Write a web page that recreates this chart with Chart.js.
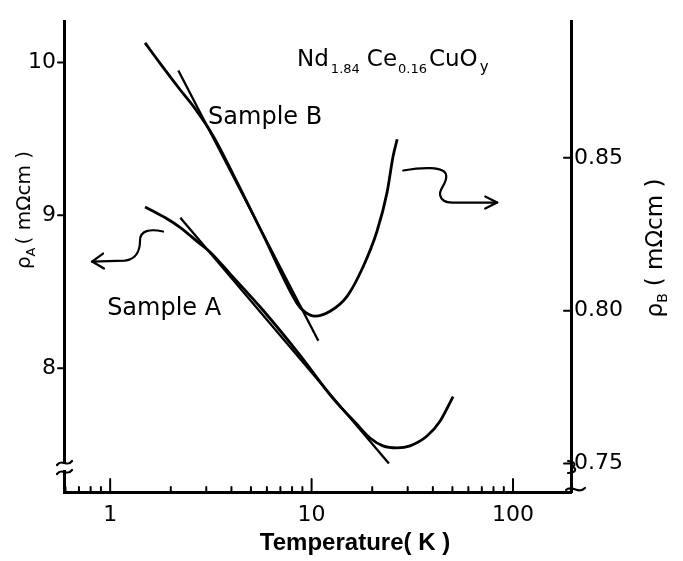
<!DOCTYPE html>
<html><head><meta charset="utf-8">
<script src="https://cdn.jsdelivr.net/npm/chart.js@4"></script>
<style>html,body{margin:0;padding:0;background:#fff;} canvas{display:block;}</style>
</head><body>
<canvas id="c" width="683" height="561"></canvas>
<script>
// ---- data ----
const tempA = [1.49, 1.88, 2.23, 2.70, 3.14, 3.94, 5.74, 8.77, 12.8, 16.8, 19.5, 22.6, 26.6, 30.8, 37.4, 43.4, 50.4];
const rhoA  = [9.055, 8.984, 8.920, 8.830, 8.759, 8.617, 8.379, 8.084, 7.801, 7.633, 7.543, 7.492, 7.479, 7.492, 7.556, 7.653, 7.814];
const tangentTempA = [2.23, 24.2];
const tangentRhoA  = [8.984, 7.376];
const tempB = [1.49, 1.77, 2.23, 2.64, 3.25, 4.27, 5.74, 8.47, 9.28, 10.4, 12.35, 15.0, 18.0, 21.1, 23.7, 25.4, 26.6];
const rhoB  = [0.8876, 0.8809, 0.8722, 0.8661, 0.8571, 0.8420, 0.8249, 0.8024, 0.7995, 0.7982, 0.7998, 0.8047, 0.8143, 0.8259, 0.8387, 0.8506, 0.8561];
const tangentTempB = [2.18, 10.8];
const tangentRhoB  = [0.8786, 0.7902];
const xTickLabels = [1, 10, 100];
const leftTicks = [8, 9, 10];
const rightTicks = [0.75, 0.80, 0.85];
const xRange = [0.59, 194];
const leftRange = [7.19, 10.27];
const rightRange = [0.7407, 0.8947];

const pts = (xs, ys) => xs.map((v, i) => ({x: v, y: ys[i]}));
const minorTicks = [];
for (let e = -1; e <= 2; e++) for (let m = 1; m <= 9; m++) {
  const v = Number((m * Math.pow(10, e)).toPrecision(3));
  if (v >= xRange[0] && v <= xRange[1]) minorTicks.push(v);
}

function drawRich(ctx, parts, cx, cy, rot, align) {
  ctx.save(); ctx.translate(cx, cy); ctx.rotate(rot);
  let total = 0;
  parts.forEach(p => { ctx.font = p.font; p.w = ctx.measureText(p.text).width; total += p.w + (p.gap || 0); });
  let xx = align === 'center' ? -total / 2 : 0;
  ctx.textBaseline = 'alphabetic'; ctx.textAlign = 'left'; ctx.fillStyle = '#000';
  parts.forEach(p => { ctx.font = p.font; ctx.fillText(p.text, xx, p.dy || 0); xx += p.w + (p.gap || 0); });
  ctx.restore();
}

const decor = {
  id: 'decor',
  afterDraw(chart) {
    const ctx = chart.ctx, a = chart.chartArea;
    const {x, y, y1} = chart.scales;
    const line = (x0, y0, x1, y1_) => { ctx.beginPath(); ctx.moveTo(x0, y0); ctx.lineTo(x1, y1_); ctx.stroke(); };
    ctx.save();
    ctx.strokeStyle = '#000'; ctx.fillStyle = '#000'; ctx.lineCap = 'round'; ctx.lineJoin = 'round';
    // tick marks
    ctx.lineWidth = 2;
    x.ticks.forEach(t => {
      const px = x.getPixelForValue(t.value);
      line(px, a.bottom, px, a.bottom - (xTickLabels.includes(t.value) ? 13 : 5));
    });
    y.ticks.forEach(t => { const py = y.getPixelForValue(t.value); line(a.left - 6, py, a.left, py); });
    y1.ticks.forEach(t => { const py = y1.getPixelForValue(t.value); line(a.right - 7, py, a.right, py); });
    // axis breaks
    ctx.fillStyle = '#fff'; ctx.fillRect(a.left - 3, a.bottom - 28, 6, 6); ctx.fillStyle = '#000';
    ctx.lineWidth = 2.2;
    ctx.beginPath(); ctx.moveTo(a.left - 7, a.bottom - 27); ctx.bezierCurveTo(a.left - 2, a.bottom - 34, a.left + 3, a.bottom - 24, a.left + 8, a.bottom - 31); ctx.stroke();
    ctx.beginPath(); ctx.moveTo(a.left - 7, a.bottom - 18); ctx.bezierCurveTo(a.left - 2, a.bottom - 25, a.left + 3, a.bottom - 15, a.left + 8, a.bottom - 22); ctx.stroke();
    ctx.beginPath(); ctx.moveTo(a.right - 3, a.bottom - 31); ctx.bezierCurveTo(a.right + 5, a.bottom - 31, a.right + 5, a.bottom - 25, a.right, a.bottom - 25);
    ctx.bezierCurveTo(a.right + 6, a.bottom - 25, a.right + 6, a.bottom - 19, a.right - 3, a.bottom - 19); ctx.stroke();
    ctx.beginPath(); ctx.moveTo(a.right - 5, a.bottom - 2); ctx.bezierCurveTo(a.right + 1, a.bottom - 8, a.right + 7, a.bottom + 3, a.right + 14, a.bottom - 4); ctx.stroke();
    // wavy arrows
    ctx.lineWidth = 2.2;
    let ox = x.getPixelForValue(1.83), oy = y.getPixelForValue(8.894);
    ctx.beginPath(); ctx.moveTo(ox, oy);
    ctx.bezierCurveTo(ox - 13, oy - 3, ox - 23, oy - 1, ox - 23, oy + 9);
    ctx.bezierCurveTo(ox - 23, oy + 19, ox - 27, oy + 28, ox - 38, oy + 29);
    ctx.lineTo(ox - 71, oy + 30); ctx.stroke();
    ctx.beginPath(); ctx.moveTo(ox - 60, oy + 22); ctx.lineTo(ox - 71, oy + 30); ctx.lineTo(ox - 59, oy + 37); ctx.stroke();
    ox = x.getPixelForValue(28.5); oy = y.getPixelForValue(9.293);
    ctx.beginPath(); ctx.moveTo(ox, oy);
    ctx.bezierCurveTo(ox + 17, oy - 3, ox + 42, oy - 5, ox + 43, oy + 5);
    ctx.bezierCurveTo(ox + 44, oy + 13, ox + 35, oy + 19, ox + 37, oy + 25);
    ctx.bezierCurveTo(ox + 38, oy + 30, ox + 43, oy + 32, ox + 49, oy + 32);
    ctx.lineTo(ox + 94, oy + 32); ctx.stroke();
    ctx.beginPath(); ctx.moveTo(ox + 82, oy + 26); ctx.lineTo(ox + 94, oy + 32); ctx.lineTo(ox + 82, oy + 38); ctx.stroke();
    ctx.restore();
    // texts
    const F = 'DejaVu Sans';
    drawRich(ctx, [{text: 'Sample B', font: `24px "${F}"`}], x.getPixelForValue(3.064), y.getPixelForValue(9.595), 0, 'left');
    drawRich(ctx, [{text: 'Sample A', font: `24px "${F}"`}], x.getPixelForValue(0.966), y.getPixelForValue(8.347), 0, 'left');
    drawRich(ctx, [
      {text: 'Nd', font: `23px "${F}"`, gap: 2},
      {text: '1.84', font: `13px "${F}"`, dy: 7, gap: 7},
      {text: 'Ce', font: `23px "${F}"`, gap: 1},
      {text: '0.16', font: `13px "${F}"`, dy: 7, gap: 2},
      {text: 'CuO', font: `23px "${F}"`, gap: 2},
      {text: 'y', font: `15px "${F}"`, dy: 6}
    ], x.getPixelForValue(8.47), y.getPixelForValue(9.974), 0, 'left');
    drawRich(ctx, [{text: 'Temperature( K )', font: `bold 24px "Liberation Sans"`}], 355, 550, 0, 'center');
    drawRich(ctx, [
      {text: 'ρ', font: `20px "${F}"`, dy: 7},
      {text: 'A', font: `13px "${F}"`, dy: 12, gap: 3},
      {text: '( mΩcm )', font: `20px "${F}"`, dy: 7}
    ], 23, 210, -Math.PI / 2, 'center');
    drawRich(ctx, [
      {text: 'ρ', font: `23px "${F}"`, dy: 8},
      {text: 'B', font: `14px "${F}"`, dy: 13, gap: 7},
      {text: '( mΩcm )', font: `23px "${F}"`, dy: 8}
    ], 654, 248, -Math.PI / 2, 'center');
  }
};

const lineStyle = {borderColor: '#000', borderWidth: 2.8, pointRadius: 0, fill: false};
const tickFont = {family: 'DejaVu Sans', size: 22};

new Chart(document.getElementById('c'), {
  type: 'line',
  data: {
    datasets: [
      {label: 'Sample A', data: pts(tempA, rhoA), yAxisID: 'y', cubicInterpolationMode: 'monotone', ...lineStyle},
      {label: 'Sample A fit', data: pts(tangentTempA, tangentRhoA), yAxisID: 'y', ...lineStyle, borderWidth: 2.3},
      {label: 'Sample B', data: pts(tempB, rhoB), yAxisID: 'y1', cubicInterpolationMode: 'monotone', ...lineStyle},
      {label: 'Sample B fit', data: pts(tangentTempB, tangentRhoB), yAxisID: 'y1', ...lineStyle, borderWidth: 2.3}
    ]
  },
  options: {
    responsive: false, animation: false, devicePixelRatio: 1,
    layout: {padding: {top: 13, left: 0, right: 0, bottom: 0}},
    plugins: {legend: {display: false}, tooltip: {enabled: false}},
    scales: {
      x: {
        type: 'logarithmic', position: 'bottom', min: xRange[0], max: xRange[1],
        grid: {display: false, drawTicks: false},
        border: {display: true, color: '#000', width: 3},
        afterBuildTicks: s => { s.ticks = minorTicks.map(v => ({value: v, major: xTickLabels.includes(v)})); },
        afterFit: s => { s.height = 69; },
        ticks: {autoSkip: false, maxRotation: 0, padding: 10, color: '#000', font: tickFont,
          callback: v => xTickLabels.includes(v) ? String(v) : ''}
      },
      y: {
        position: 'left', min: leftRange[0], max: leftRange[1],
        grid: {display: false, drawTicks: false},
        border: {display: true, color: '#000', width: 3},
        afterBuildTicks: s => { s.ticks = leftTicks.map(v => ({value: v})); },
        afterFit: s => { s.width = 64; },
        ticks: {padding: 8, color: '#000', font: tickFont, callback: v => String(v)}
      },
      y1: {
        position: 'right', min: rightRange[0], max: rightRange[1],
        grid: {display: false, drawTicks: false},
        border: {display: true, color: '#000', width: 3},
        afterBuildTicks: s => { s.ticks = rightTicks.map(v => ({value: v})); },
        afterFit: s => { s.width = 112; },
        ticks: {padding: 3, color: '#000', font: tickFont, callback: v => Number(v).toFixed(2)}
      }
    }
  },
  plugins: [decor]
});
</script>
</body></html>
